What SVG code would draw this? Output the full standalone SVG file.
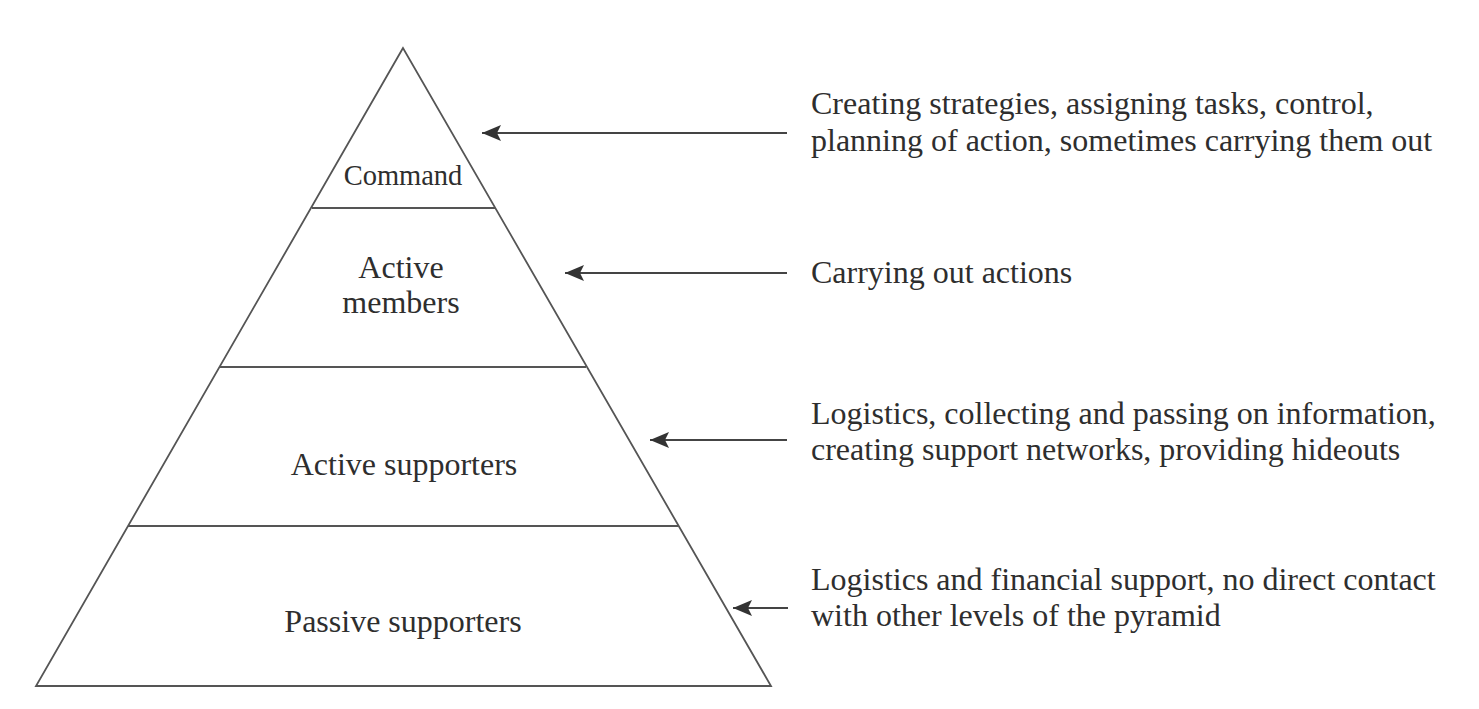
<svg xmlns="http://www.w3.org/2000/svg" width="1479" height="709" viewBox="0 0 1479 709">
<defs>
<style>
.ln{stroke:#555;stroke-width:1.8;fill:none}
.arr{stroke:#444;stroke-width:2;fill:none;marker-end:url(#ah)}
.t{font-family:"Liberation Serif","Times New Roman",serif;fill:#2e2e2e}
.lbl{font-size:32px;text-anchor:middle}
.desc{font-size:32px}
</style>
<marker id="ah" markerUnits="userSpaceOnUse" markerWidth="20" markerHeight="16" viewBox="0 0 20 16" refX="19" refY="8" orient="auto">
<path d="M0,0 L19,8 L0,16 L4,8 Z" fill="#333"/>
</marker>
</defs>
<rect width="1479" height="709" fill="#fff"/>
<g id="pyramid">
<polygon class="ln" points="403,48 36,686 771,686"/>
</g>
<g id="command">
<line class="ln" x1="312" y1="208" x2="495" y2="208"/>
<text class="t lbl" x="403" y="185" style="font-size:28.5px">Command</text>
</g>
<g id="active-members">
<line class="ln" x1="220" y1="367" x2="586" y2="367"/>
<text class="t lbl" x="401" y="278">Active</text>
<text class="t lbl" x="401" y="313">members</text>
</g>
<g id="active-supporters">
<line class="ln" x1="128" y1="526" x2="678" y2="526"/>
<text class="t lbl" x="404" y="475">Active supporters</text>
</g>
<g id="passive-supporters">
<text class="t lbl" x="403" y="632">Passive supporters</text>
</g>
<g id="connectors">
<line class="arr" x1="787" y1="133" x2="482" y2="133"/>
<line class="arr" x1="787" y1="273" x2="565" y2="273"/>
<line class="arr" x1="787" y1="440" x2="650" y2="440"/>
<line class="arr" x1="788" y1="608" x2="733" y2="608"/>
</g>
<g id="desc-command">
<text class="t desc" x="811" y="114">Creating strategies, assigning tasks, control,</text>
<text class="t desc" x="811" y="151">planning of action, sometimes carrying them out</text>
</g>
<g id="desc-active-members">
<text class="t desc" x="811" y="283">Carrying out actions</text>
</g>
<g id="desc-active-supporters">
<text class="t desc" x="811" y="424">Logistics, collecting and passing on information,</text>
<text class="t desc" x="811" y="460">creating support networks, providing hideouts</text>
</g>
<g id="desc-passive-supporters">
<text class="t desc" x="811" y="590">Logistics and financial support, no direct contact</text>
<text class="t desc" x="811" y="626">with other levels of the pyramid</text>
</g>
</svg>
